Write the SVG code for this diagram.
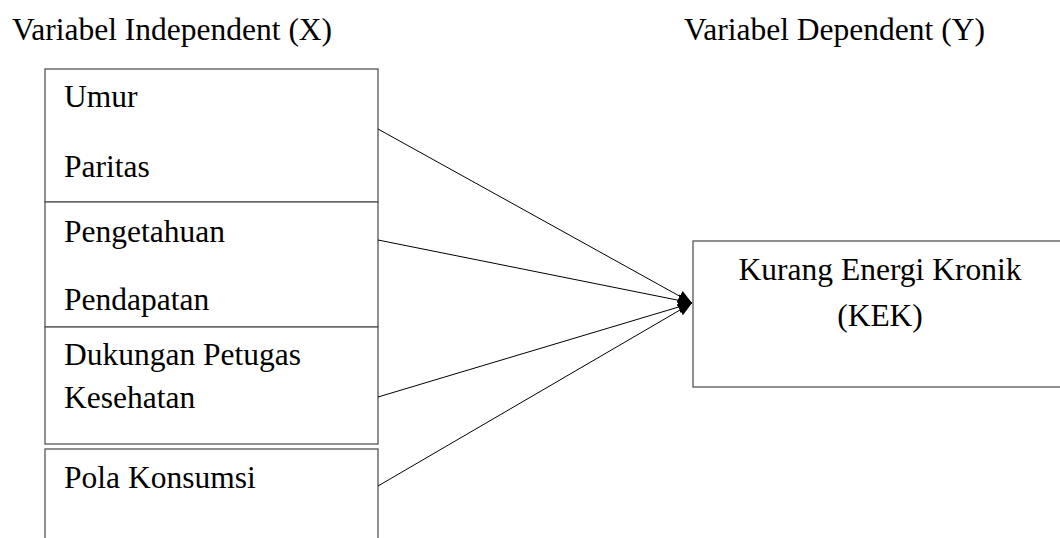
<svg xmlns="http://www.w3.org/2000/svg" width="1060" height="538" viewBox="0 0 1060 538">
<style>
text{font-family:"Liberation Serif","Times New Roman",serif;font-size:31.5px;fill:#000}
.box{fill:#fff;stroke:#555;stroke-width:1.3}
.conn{stroke:#000;stroke-width:1;fill:none;marker-end:url(#ah)}
</style>
<defs>
<marker id="ah" viewBox="0 0 10 10" refX="10" refY="5" markerWidth="14" markerHeight="12" markerUnits="userSpaceOnUse" orient="auto" preserveAspectRatio="none">
<path d="M0,0 L10,5 L0,10 z" fill="#000"/>
</marker>
</defs>
<rect width="1060" height="538" fill="#fff"/>
<g id="title-x"><text x="12" y="40">Variabel Independent (X)</text></g>
<g id="title-y"><text x="684" y="40">Variabel Dependent (Y)</text></g>
<g id="node-umur-paritas">
<rect class="box" x="45" y="69" width="333" height="133"/>
<text x="64" y="107">Umur</text>
<text x="64" y="177">Paritas</text>
</g>
<g id="node-pengetahuan-pendapatan">
<rect class="box" x="45" y="202" width="333" height="125"/>
<text x="64" y="242">Pengetahuan</text>
<text x="64" y="310">Pendapatan</text>
</g>
<g id="node-dukungan">
<rect class="box" x="45" y="327" width="333" height="117"/>
<text x="64" y="365">Dukungan Petugas</text>
<text x="64" y="408">Kesehatan</text>
</g>
<g id="node-pola">
<rect class="box" x="45" y="449" width="333" height="100"/>
<text x="64" y="488">Pola Konsumsi</text>
</g>
<g id="node-kek">
<rect class="box" x="693" y="241" width="380" height="146"/>
<text x="880" y="280" text-anchor="middle">Kurang Energi Kronik</text>
<text x="880" y="326" text-anchor="middle">(KEK)</text>
</g>
<g id="connectors">
<line class="conn" x1="378" y1="129" x2="692" y2="303"/>
<line class="conn" x1="378" y1="240" x2="692" y2="303"/>
<line class="conn" x1="378" y1="397" x2="692" y2="303"/>
<line class="conn" x1="378" y1="486" x2="692" y2="303"/>
</g>
</svg>
